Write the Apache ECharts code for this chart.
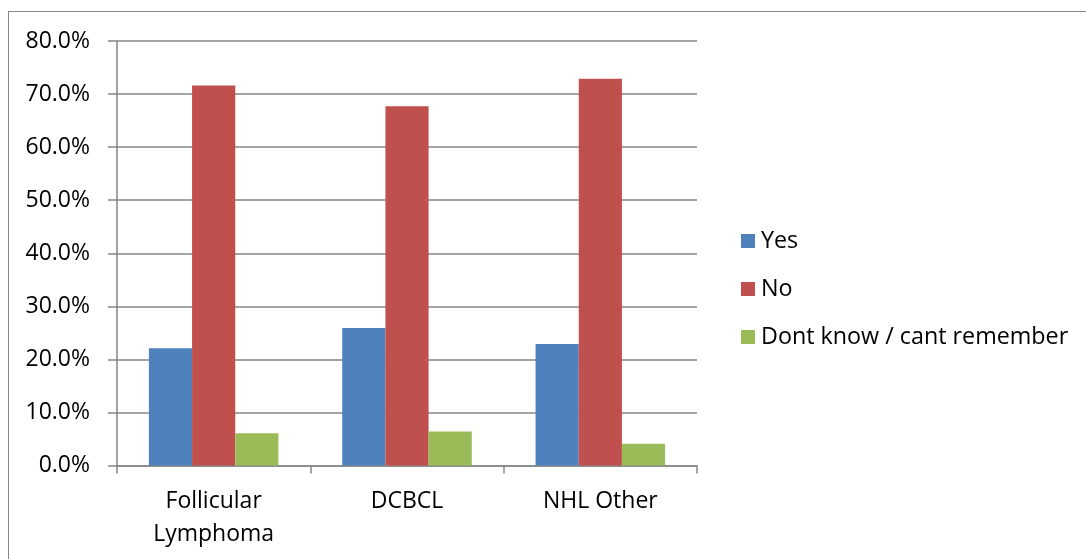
<!DOCTYPE html>
<html>
<head>
<meta charset="utf-8">
<script src="https://cdn.jsdelivr.net/npm/echarts@6/dist/echarts.min.js"></script>
<style>
  html, body { margin: 0; padding: 0; background: #fff; }
  #frame { position: absolute; left: 8px; top: 11px; width: 1100px; height: 600px; border: 1.5px solid #868686; box-sizing: border-box; }
  #chart { position: absolute; left: 0; top: 0; width: 1086px; height: 559px; }
</style>
</head>
<body>
<div id="frame"></div>
<div id="chart"></div>
<script>
// Survey answers by lymphoma type (percent of respondents)
const categories = ['Follicular\nLymphoma', 'DCBCL', 'NHL Other'];
const seriesNames = ['Yes', 'No', 'Dont know / cant remember'];
const yesValues = [22.1, 25.9, 22.9];
const noValues = [71.6, 67.7, 72.9];
const dontKnowValues = [6.1, 6.4, 4.1];
const yTicks = [0, 10, 20, 30, 40, 50, 60, 70, 80];

const colors = ['#4F81BD', '#C0504D', '#9BBB59'];
const font = '"Open Sans", sans-serif';
const axisGray = '#868686';
const fontSize = 23;

const chart = echarts.init(document.getElementById('chart'), null, { renderer: 'canvas' });
chart.setOption({
  animation: false,
  color: colors,
  textStyle: { fontFamily: font },
  grid: { left: 117, top: 41, right: 389, bottom: 93.5, containLabel: false },
  legend: {
    orient: 'vertical',
    left: 741,
    top: 227,
    padding: 0,
    itemWidth: 14,
    itemHeight: 14,
    itemGap: 20,
    icon: 'rect',
    textStyle: { fontFamily: font, fontSize: 23.3, lineHeight: 28, color: '#000', padding: [0, 0, 0, 1] },
    data: seriesNames
  },
  xAxis: {
    type: 'category',
    data: categories,
    axisLine: { lineStyle: { color: axisGray, width: 1.5 } },
    axisTick: { show: true, length: 8, lineStyle: { color: axisGray, width: 1.5 } },
    axisLabel: { color: '#000', fontFamily: font, fontSize: fontSize, lineHeight: 33, margin: 19 }
  },
  yAxis: {
    type: 'value',
    min: yTicks[0],
    max: yTicks[yTicks.length - 1],
    interval: yTicks[1] - yTicks[0],
    axisLine: { show: true, lineStyle: { color: axisGray, width: 1.5 } },
    axisTick: { show: true, length: 9, lineStyle: { color: axisGray, width: 1.5 } },
    splitLine: { show: true, lineStyle: { color: axisGray, width: 1.5 } },
    axisLabel: {
      color: '#000', fontFamily: font, fontSize: fontSize, margin: 27,
      formatter: v => v.toFixed(1) + '%'
    }
  },
  series: [
    { name: seriesNames[0], type: 'bar', data: yesValues, barGap: '0%', barCategoryGap: '33%' },
    { name: seriesNames[1], type: 'bar', data: noValues, barGap: '0%', barCategoryGap: '33%' },
    { name: seriesNames[2], type: 'bar', data: dontKnowValues, barGap: '0%', barCategoryGap: '33%' }
  ]
});
</script>
</body>
</html>
